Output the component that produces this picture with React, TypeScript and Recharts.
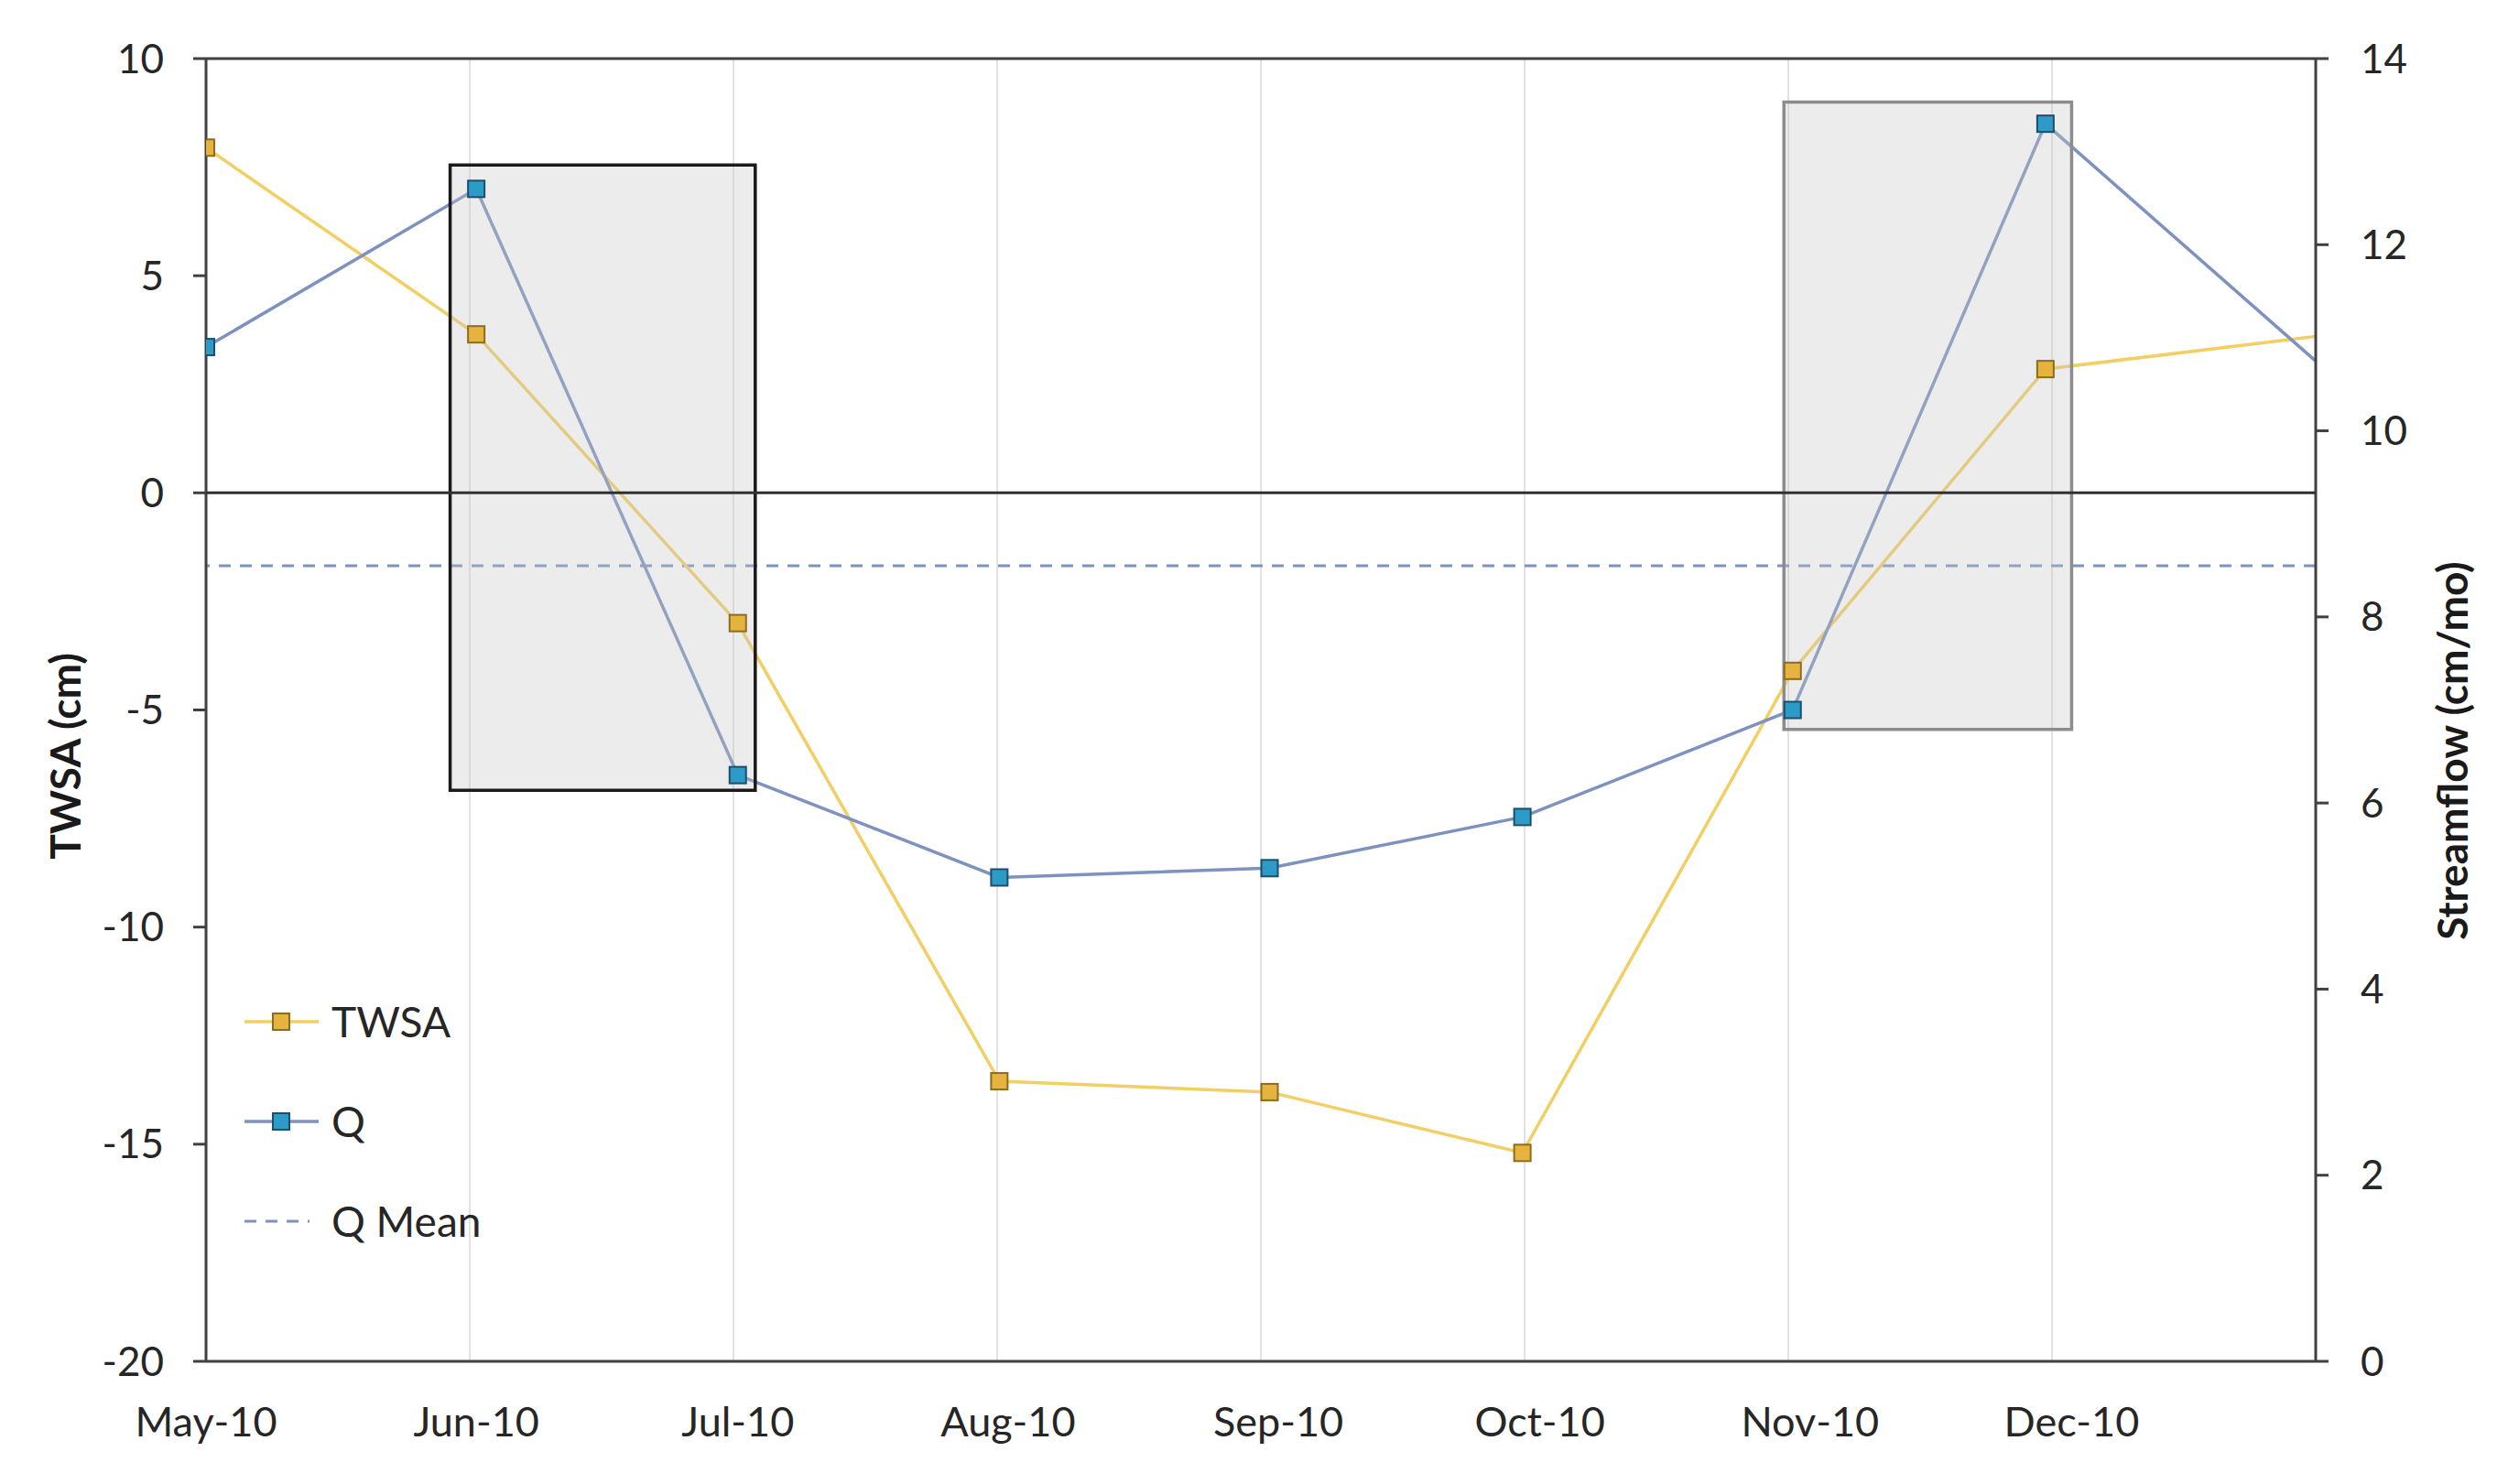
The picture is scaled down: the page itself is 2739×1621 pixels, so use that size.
import React from "react"
import {
  ComposedChart,
  Line,
  XAxis,
  YAxis,
  CartesianGrid,
  ReferenceLine,
  ReferenceArea,
  Legend,
} from "recharts"

// sample dates (GRACE months) and series values
const dates = [
  "2010-05-01",
  "2010-06-01",
  "2010-07-01",
  "2010-07-31",
  "2010-08-31",
  "2010-09-29",
  "2010-10-30",
  "2010-11-28",
  "2010-12-29",
]
const twsa = [7.95, 3.65, -3.0, -13.55, -13.8, -15.2, -4.1, 2.85, 3.6]
const q = [10.9, 12.6, 6.3, 5.2, 5.3, 5.85, 7.0, 13.3, 10.75]
const qMean = 8.55

const tickDates = [
  "2010-05-01",
  "2010-06-01",
  "2010-07-01",
  "2010-08-01",
  "2010-09-01",
  "2010-10-01",
  "2010-11-01",
  "2010-12-01",
]
const tickLabels = ["May-10", "Jun-10", "Jul-10", "Aug-10", "Sep-10", "Oct-10", "Nov-10", "Dec-10"]

const leftTicks = [-20, -15, -10, -5, 0, 5, 10]
const rightTicks = [0, 2, 4, 6, 8, 10, 12, 14]

// highlighted periods on the TWSA axis
const boxStarts = ["2010-05-29", "2010-10-29"]
const boxEnds = ["2010-07-03", "2010-12-01"]
const boxTops = [7.55, 9.0]
const boxBottoms = [-6.85, -5.45]
const boxStrokes = ["#1a1a1a", "#8c8c8c"]

const ts = (s: string) => {
  const [y, m, d] = s.split("-").map(Number)
  return Date.UTC(y, m - 1, d)
}

const data = dates.map((d, i) => ({ t: ts(d), twsa: twsa[i], q: q[i] }))
const tickTimes = tickDates.map(ts)

const FONT = "Lato, 'Open Sans', sans-serif"
const AXIS = "#404040"
const TWSA_LINE = "#F2CF63"
const TWSA_FILL = "#E6B43E"
const TWSA_EDGE = "#8C6D1F"
const Q_LINE = "#7D92BF"
const Q_FILL = "#2C9BC8"
const Q_EDGE = "#1C4F6E"

const squareDot = (fill: string, edge: string) => (props: any) => {
  const { cx, cy, index } = props
  if (index === data.length - 1 || cx == null) return <g key={`d-${index}`} />
  return (
    <rect
      key={`d-${index}`}
      x={cx - 9}
      y={cy - 9}
      width={18}
      height={18}
      fill={fill}
      stroke={edge}
      strokeWidth={2}
    />
  )
}

function LegendBox() {
  const row = (icon: React.ReactNode, label: string) => (
    <div style={{ display: "flex", alignItems: "center", height: 109 }}>
      <svg width={95} height={40} style={{ display: "block" }}>
        {icon}
      </svg>
      <span style={{ marginLeft: 5, lineHeight: 1 }}>{label}</span>
    </div>
  )
  return (
    <div style={{ fontFamily: FONT, fontSize: 46, color: "#262626" }}>
      {row(
        <>
          <line x1={5} x2={86} y1={20} y2={20} stroke={TWSA_LINE} strokeWidth={3.5} />
          <rect x={36} y={11} width={18} height={18} fill={TWSA_FILL} stroke={TWSA_EDGE} strokeWidth={2} />
        </>,
        "TWSA"
      )}
      {row(
        <>
          <line x1={5} x2={86} y1={20} y2={20} stroke={Q_LINE} strokeWidth={3.5} />
          <rect x={36} y={11} width={18} height={18} fill={Q_FILL} stroke={Q_EDGE} strokeWidth={2} />
        </>,
        "Q"
      )}
      {row(
        <line x1={5} x2={76} y1={20} y2={20} stroke={Q_LINE} strokeWidth={3} strokeDasharray="13 10" />,
        "Q Mean"
      )}
    </div>
  )
}

export default function App() {
  return (
    <div style={{ position: "absolute", left: 0, top: 0, background: "#fff" }}>
      <ComposedChart
        width={2739}
        height={1621}
        data={data}
        margin={{ top: 64, right: 20, bottom: 0, left: 25 }}
        style={{ fontFamily: FONT }}
      >
        <CartesianGrid vertical horizontal={false} stroke="#d9d9d9" strokeWidth={1.5} />
        <XAxis
          xAxisId="x"
          dataKey="t"
          type="number"
          domain={[data[0].t, data[data.length - 1].t]}
          ticks={tickTimes}
          tickFormatter={(v: number) => tickLabels[tickTimes.indexOf(v)] ?? ""}
          allowDataOverflow
          height={134}
          tickLine={false}
          tickSize={0}
          tickMargin={50}
          axisLine={{ stroke: AXIS, strokeWidth: 3 }}
          tick={{ fill: "#262626", fontSize: 45 }}
          interval={0}
        />
        <YAxis
          yAxisId="left"
          domain={[-20, 10]}
          ticks={leftTicks}
          width={200}
          tickSize={14}
          tickMargin={32}
          axisLine={{ stroke: AXIS, strokeWidth: 3 }}
          tickLine={{ stroke: AXIS, strokeWidth: 3 }}
          tick={{ fill: "#262626", fontSize: 44 }}
          interval={0}
          label={{
            content: () => (
              <text
                x={70}
                y={826}
                transform="rotate(-90 70 826)"
                textAnchor="middle"
                dominantBaseline="central"
                fontWeight="bold"
                fontSize={46}
                fill="#1a1a1a"
                fontFamily={FONT}
              >
                TWSA (cm)
              </text>
            ),
          }}
        />
        <YAxis
          yAxisId="right"
          orientation="right"
          domain={[0, 14]}
          ticks={rightTicks}
          width={190}
          tickSize={14}
          tickMargin={35}
          axisLine={{ stroke: AXIS, strokeWidth: 3 }}
          tickLine={{ stroke: AXIS, strokeWidth: 3 }}
          tick={{ fill: "#262626", fontSize: 44 }}
          interval={0}
          label={{
            content: () => (
              <text
                x={2677}
                y={820}
                transform="rotate(-90 2677 820)"
                textAnchor="middle"
                dominantBaseline="central"
                fontWeight="bold"
                fontSize={46}
                fill="#1a1a1a"
                fontFamily={FONT}
              >
                Streamflow (cm/mo)
              </text>
            ),
          }}
        />
        <ReferenceLine yAxisId="left" xAxisId="x" y={10} stroke={AXIS} strokeWidth={3} />
        <ReferenceLine
          yAxisId="right"
          xAxisId="x"
          y={qMean}
          stroke={Q_LINE}
          strokeWidth={3}
          strokeDasharray="13 10"
        />
        <Line
          xAxisId="x"
          yAxisId="left"
          dataKey="twsa"
          type="linear"
          stroke={TWSA_LINE}
          strokeWidth={3.5}
          dot={squareDot(TWSA_FILL, TWSA_EDGE)}
          activeDot={false}
          isAnimationActive={false}
        />
        <Line
          xAxisId="x"
          yAxisId="right"
          dataKey="q"
          type="linear"
          stroke={Q_LINE}
          strokeWidth={3.5}
          dot={squareDot(Q_FILL, Q_EDGE)}
          activeDot={false}
          isAnimationActive={false}
        />
        {boxStarts.map((s, i) => (
          <ReferenceArea
            key={s}
            xAxisId="x"
            yAxisId="left"
            x1={ts(s)}
            x2={ts(boxEnds[i])}
            y1={boxBottoms[i]}
            y2={boxTops[i]}
            fill="#c4c4c4"
            fillOpacity={0.32}
            stroke={boxStrokes[i]}
            strokeWidth={3.5}
            zIndex={450}
          />
        ))}
        <ReferenceLine yAxisId="left" xAxisId="x" y={0} stroke="#303030" strokeWidth={3} zIndex={500} />
        <Legend
          content={LegendBox}
          layout="vertical"
          align="center"
          verticalAlign="middle"
          wrapperStyle={{ left: 262, top: 1061, width: "auto" }}
        />
      </ComposedChart>
    </div>
  )
}
